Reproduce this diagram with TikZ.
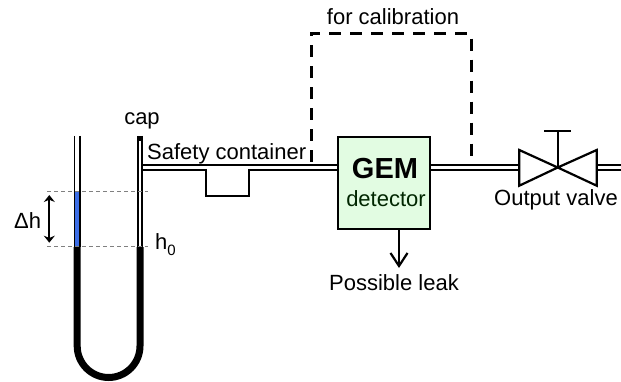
\documentclass[tikz,border=0pt]{standalone}
\usepackage{fontspec}
\setmainfont{Liberation Sans}
\usetikzlibrary{arrows.meta}
\definecolor{detectorgreen}{RGB}{226,252,226}
\definecolor{fluidblue}{RGB}{60,110,230}
\tikzset{
  label/.style={font=\fontsize{22}{24}\selectfont, inner sep=0pt, anchor=base},
  pipe/.style={black, line width=1.7pt},
  tube/.style={black, line width=7pt},
  level/.style={gray, line width=0.8pt, dash pattern=on 4pt off 3pt},
  calib/.style={black, line width=3pt, dash pattern=on 12pt off 9pt}
}
\begin{document}
\begin{tikzpicture}[x=1pt, y=-1pt]
  \useasboundingbox (0,0) rectangle (621,382);
  % detector
  \node[draw=black, line width=2.2pt, fill=detectorgreen, minimum width=92pt, minimum height=92pt, inner sep=0pt] (detector) at (384,183) {};
  \node[label, font=\fontsize{29}{32}\bfseries\selectfont] (gem) at (385,178.3) {GEM};
  \node[label, text=black!85!green] (det) at (386,206.7) {detector};
  % manometer
  \fill[fluidblue] (75,191.7) rectangle (80,247);
  \foreach \x in {74.5, 80}{ \draw[black, line width=1.6pt] (\x,136) -- (\x,247); }
  \foreach \x in {137.7, 142.3}{ \draw[black, line width=2pt] (\x,136) -- (\x,247); }
  \fill[black] (136.7,136) rectangle (143.3,141.5);
  \coordinate (uleft) at (77.2,247);
  \coordinate (uright) at (140,247);
  \draw[tube] (uleft) -- (77.2,346) arc[start angle=180, end angle=0, x radius=31.4, y radius=31.5] -- (uright);
  % levels
  \foreach \y in {191.7, 246.7}{ \draw[level] (47,\y) -- (148,\y); }
  \coordinate (hhigh) at (49.3,195);
  \coordinate (hlow) at (49.3,242.7);
  \draw[{Stealth[length=7pt,width=11pt]}-{Stealth[length=7pt,width=11pt]}, line width=2pt] (hhigh) -- (hlow);
  % pipe with safety container
  \coordinate (pipea) at (143,164.7);
  \coordinate (pipeb) at (143,170);
  \draw[pipe] (pipea) -- (pipea -| detector.west);
  \draw[pipe] (pipeb) -- (206,170) -- (206,195.7) -- (249,195.7) -- (249,170) -- (pipeb -| detector.west);
  % valve
  \coordinate (valve) at (557.7,167.5);
  \draw[pipe] (pipea -| detector.east) -- (pipea -| 519,0);
  \draw[pipe] (pipeb -| detector.east) -- (pipeb -| 519,0);
  \draw[black, line width=2.2pt, line join=miter] (valve) -- (519.3,150) -- (519.3,185.7) -- cycle;
  \draw[black, line width=2.2pt, line join=miter] (valve) -- (596.7,150) -- (596.7,185.7) -- cycle;
  \draw[black, line width=2pt] (valve) -- (557.7,130.7);
  \draw[black, line width=2pt] (544,130.7) -- (571,130.7);
  \draw[pipe] (597,165) -- (621,165);
  \draw[pipe] (597,170) -- (621,170);
  % calibration loop
  \draw[calib] (311,162) -- (311,33.3) -- (471,33.3) -- (471,162);
  % leak
  \coordinate (leak) at (399,268);
  \draw[-{Straight Barb[length=13pt,width=17pt]}, line width=2.2pt] (detector.south -| leak) -- (leak);
  % texts
  \node[label] (forcal) at (393,25) {for calibration};
  \node[label] (cap) at (142,125) {cap};
  \node[label, anchor=base west] (safety) at (147,159.3) {Safety container};
  \node[label, anchor=base west] (hzero) at (155,249) {h\raisebox{-6pt}{\fontsize{15}{15}\selectfont 0}};
  \node[label, anchor=base west] (dh) at (14,228.3) {Δh};
  \node[label] (possible) at (394,290.7) {Possible leak};
  \node[label] (output) at (556,206) {Output valve};
\end{tikzpicture}
\end{document}
